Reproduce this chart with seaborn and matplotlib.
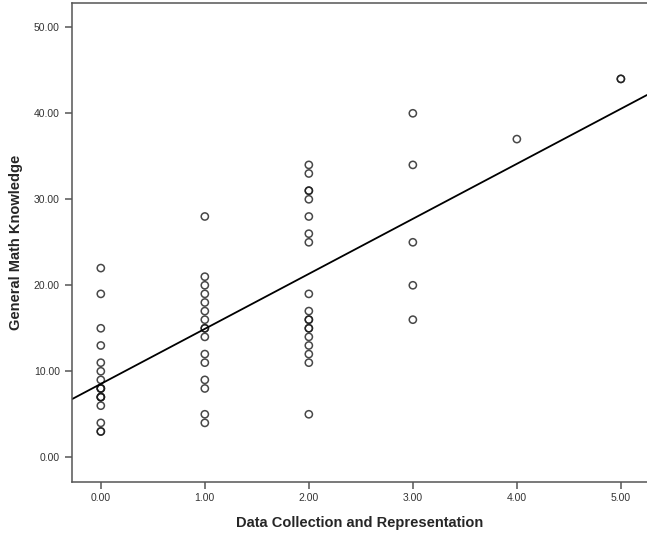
"""
Scatter of General Math Knowledge against Data Collection and Representation
with a fitted linear regression line (SPSS-style look).
"""
import matplotlib.pyplot as plt
import pandas as pd
import seaborn as sns

# Math knowledge scores, grouped by Data Collection and Representation score
# (overlapping duplicates show up as bolder rings in the original)
math_at_0 = [22, 19, 15, 13, 11, 10, 9, 8, 8, 8, 7, 7, 7, 6, 4, 3, 3]
math_at_1 = [28, 21, 20, 19, 18, 17, 16, 15, 15, 14, 12, 11, 9, 8, 5, 4]
math_at_2 = [34, 33, 31, 31, 30, 28, 26, 25, 19, 17, 16, 16, 15, 15, 14, 13, 12, 11, 5]
math_at_3 = [40, 34, 25, 20, 16]
math_at_4 = [37]
math_at_5 = [44, 44]

dcr_scores = [0, 1, 2, 3, 4, 5]
groups = [math_at_0, math_at_1, math_at_2, math_at_3, math_at_4, math_at_5]

x_ticks = [0, 1, 2, 3, 4, 5]
y_ticks = [0, 10, 20, 30, 40, 50]

rows = []
for dcr, scores in zip(dcr_scores, groups):
    for s in scores:
        rows.append({"dcr": dcr, "math": s})
df = pd.DataFrame(rows)

sns.set_style("ticks")
plt.rcParams["font.family"] = ["Liberation Sans", "DejaVu Sans"]

fig = plt.figure(figsize=(6.47, 5.37), dpi=100)
ax = fig.add_axes([0.1108, 0.103, 0.889, 0.891])

# limits first so the fitted line spans the whole plot area
ax.set_xlim(-0.28, 5.25)
ax.set_ylim(-2.84, 52.8)

sns.regplot(
    data=df,
    x="dcr",
    y="math",
    ci=None,
    truncate=False,
    marker="o",
    scatter_kws={
        "s": 27,
        "facecolors": "none",
        "edgecolors": "#1a1a1a",
        "linewidths": 1.1,
    },
    line_kws={"color": "black", "linewidth": 1.3},
    ax=ax,
)
ax.set_xlim(-0.28, 5.25)
ax.set_ylim(-2.84, 52.8)

ax.set_xticks(x_ticks)
ax.set_xticklabels([f"{v:.2f}" for v in x_ticks])
ax.set_yticks(y_ticks)
ax.set_yticklabels([f"{v:.2f}" for v in y_ticks])

for side in ["left", "bottom", "top"]:
    ax.spines[side].set_color("#555555")
    ax.spines[side].set_linewidth(1.1)
ax.spines["right"].set_visible(False)

ax.tick_params(axis="both", direction="out", length=5, width=1.1,
               color="#555555", labelsize=7.5, labelcolor="#333333")

ax.set_xlabel("Data Collection and Representation", fontsize=10.5,
              fontweight="bold", labelpad=9)
ax.set_ylabel("General Math Knowledge", fontsize=10.5,
              fontweight="bold", labelpad=8)

fig.savefig("out.png", dpi=100)
plt.close(fig)
